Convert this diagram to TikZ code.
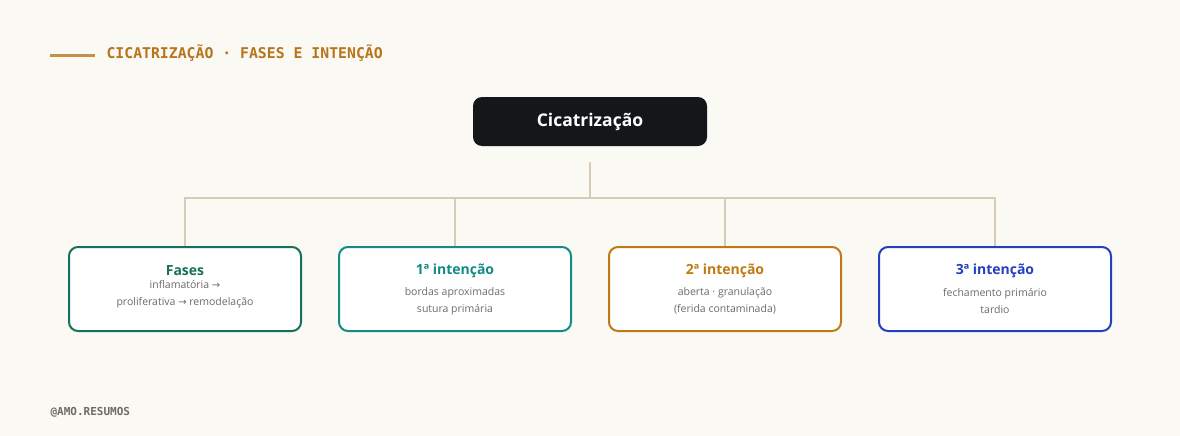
\documentclass[tikz,border=0pt]{standalone}
\usepackage{fontspec}
\setmainfont{Open Sans}
\newfontfamily\monofont{DejaVu Sans Mono}
\newfontfamily\arrowfont{DejaVu Sans}
\newcommand{\arr}{{\arrowfont\fontsize{10}{10}\selectfont →}}
\usetikzlibrary{positioning}
\definecolor{bgcol}{HTML}{FAF9F4}
\definecolor{wirecol}{HTML}{D6CBB6}
\definecolor{titlecol}{HTML}{B8741A}
\definecolor{rootcol}{HTML}{14171A}
\definecolor{fasecol}{HTML}{17705A}
\definecolor{primcol}{HTML}{148A86}
\definecolor{secucol}{HTML}{C07A14}
\definecolor{tercol}{HTML}{2440C0}
\definecolor{subcol}{HTML}{6B6B6B}
\tikzset{
  leaf/.style={draw=#1,line width=2pt,rounded corners=9pt,fill=white,
    minimum width=232pt,minimum height=84pt,inner sep=0pt},
  head/.style={text=#1,font=\fontsize{14}{16}\selectfont\bfseries},
  sub/.style={text=subcol,font=\fontsize{10.5}{17}\selectfont,align=center},
  wire/.style={draw=wirecol,line width=2pt}
}
\begin{document}
\begin{tikzpicture}[x=1pt,y=-1pt]
	\fill[bgcol] (0,0) rectangle (1180,436);
	\useasboundingbox (0,0) rectangle (1180,436);
	\draw[titlecol!80,line width=3pt] (50,56) -- (95,56);
	\node[anchor=west,text=titlecol,font=\monofont\bfseries\fontsize{14.8}{16}\selectfont] (title) at (103,53) {CICATRIZAÇÃO · FASES E INTENÇÃO};
	\node[anchor=west,text=subcol,font=\monofont\bfseries\fontsize{11}{12}\selectfont] (sign) at (47,412) {@AMO.RESUMOS};
	\node[fill=rootcol,rounded corners=9pt,minimum width=234pt,minimum height=49pt,text=white,font=\fontsize{17.5}{20}\selectfont\bfseries] (root) at (590,121.5) {Cicatrização};
	\coordinate (hub) at (590,162);
	\coordinate (bar) at (590,198);
	% folhas
	\node[leaf=fasecol] (fases) at (185,289) {};
	\node[leaf=primcol] (prim) at (455,289) {};
	\node[leaf=secucol] (secu) at (725,289) {};
	\node[leaf=tercol] (terc) at (995,289) {};
	\node[head=fasecol] (fasesH) at (185,271) {Fases};
	\node[sub] (fasesT) at (185,294) {inflamatória \arr\\proliferativa \arr{} remodelação};
	\node[head=primcol] (primH) at (455,271) {1ª intenção};
	\node[sub] (primT) at (455,301) {bordas aproximadas\\sutura primária};
	\node[head=secucol] (secuH) at (725,271) {2ª intenção};
	\node[sub] (secuT) at (725,301) {aberta · granulação\\(ferida contaminada)};
	\node[head=tercol] (tercH) at (995,271) {3ª intenção};
	\node[sub] (tercT) at (995,301) {fechamento primário\\tardio};
	% ligacoes
	\draw[wire] (hub) -- (bar);
	\foreach \leafname in {fases,prim,secu,terc}
		\draw[wire] (bar) -| (\leafname.north);
\end{tikzpicture}
\end{document}
